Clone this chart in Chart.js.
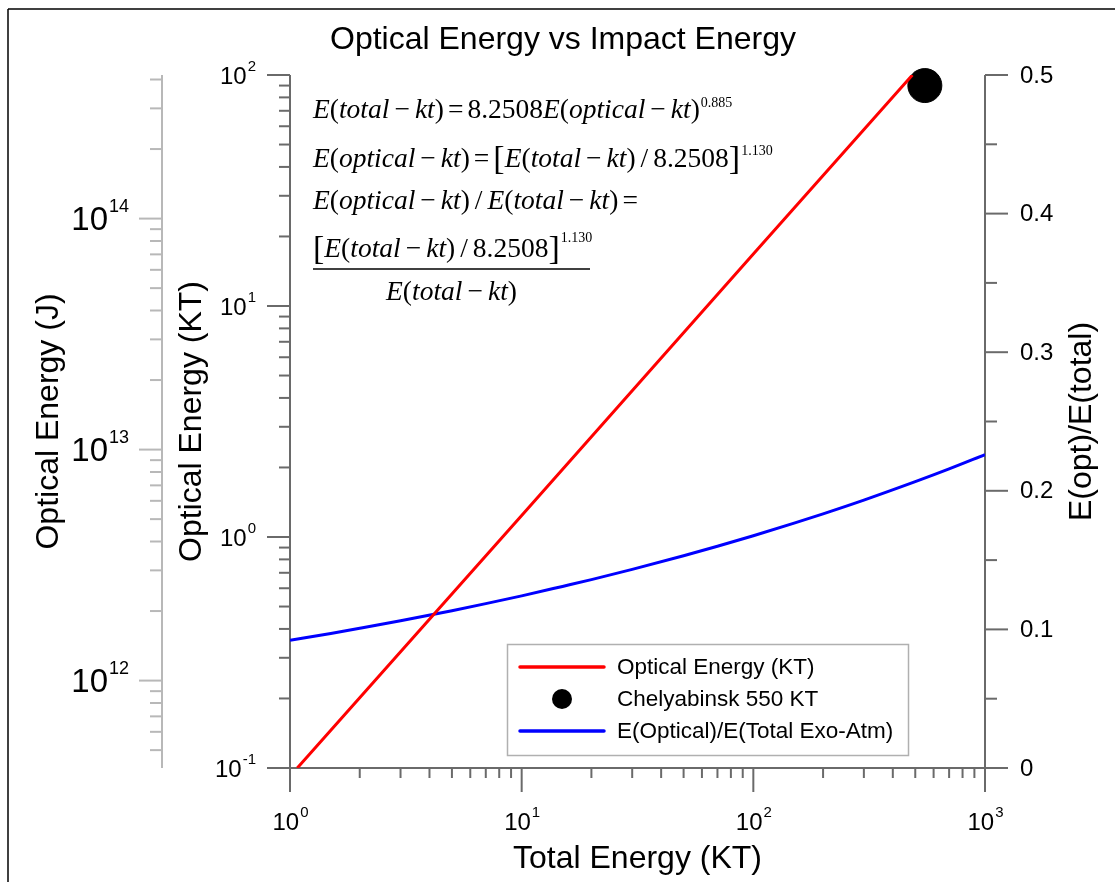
<!DOCTYPE html>
<html>
<head>
<meta charset="utf-8">
<title>Optical Energy vs Impact Energy</title>
<script src="https://cdn.jsdelivr.net/npm/chart.js@4.4.0/dist/chart.umd.min.js"></script>
<style>
  html, body { margin: 0; padding: 0; background: #fff; }
  #wrap { width: 1115px; height: 882px; }
</style>
</head>
<body>
<div id="wrap"><canvas id="energyChart" width="1115" height="882"></canvas></div>
<script>
// values
const redTotalKT = [1.075, 10, 100, 486];
const redOpticalKT = [0.1, 1.24, 16.8, 100];
const ratioTotalKT = [1, 1.5, 2, 3, 5, 7, 10, 15, 20, 30, 50, 70, 100, 150, 200, 300, 500, 700, 1000];
const ratioValues = [0.0921, 0.0971, 0.1008, 0.1062, 0.1135, 0.1186, 0.1242, 0.1310, 0.1359, 0.1433, 0.1531,
                     0.1600, 0.1676, 0.1767, 0.1834, 0.1933, 0.2066, 0.2158, 0.2261];
const chelyabinskTotalKT = [550];
const chelyabinskOpticalKT = [90];

// tick positions
const xMajor = [1, 10, 100, 1000];
const xMinor = [2, 3, 4, 5, 6, 7, 8, 9, 20, 30, 40, 50, 60, 70, 80, 90, 200, 300, 400, 500, 600, 700, 800, 900];
const xExp = ["0", "1", "2", "3"];
const ktMajor = [0.1, 1, 10, 100];
const ktMinor = [0.2, 0.3, 0.4, 0.5, 0.6, 0.7, 0.8, 0.9, 2, 3, 4, 5, 6, 7, 8, 9, 20, 30, 40, 50, 60, 70, 80, 90];
const ktExp = ["-1", "0", "1", "2"];
const jMajor = [1e12, 1e13, 1e14];
const jMinor = [5e11, 6e11, 7e11, 8e11, 9e11, 2e12, 3e12, 4e12, 5e12, 6e12, 7e12, 8e12, 9e12,
                2e13, 3e13, 4e13, 5e13, 6e13, 7e13, 8e13, 9e13, 2e14, 3e14, 4e14];
const jExp = ["12", "13", "14"];
const ratioMajor = [0, 0.1, 0.2, 0.3, 0.4, 0.5];
const ratioMinor = [0.05, 0.15, 0.25, 0.35, 0.45];
const ratioLabels = ["0", "0.1", "0.2", "0.3", "0.4", "0.5"];

const SANS = '"Liberation Sans", Arial, sans-serif';
const SERIF = '"Liberation Serif", "Times New Roman", serif';
const AXIS = "#6a6a6a";
const JAXIS = "#b8b8b8";

function line(ctx, x1, y1, x2, y2) {
  ctx.beginPath();
  ctx.moveTo(x1, y1);
  ctx.lineTo(x2, y2);
  ctx.stroke();
}

// "10" with a small exponent
function powLabel(ctx, exp, x, y, size, supSize, align) {
  ctx.font = size + "px " + SANS;
  const w1 = ctx.measureText("10").width;
  ctx.font = supSize + "px " + SANS;
  const w2 = ctx.measureText(exp).width;
  let left = x;
  if (align === "right") left = x - w1 - w2;
  if (align === "center") left = x - (w1 + w2) / 2;
  ctx.textAlign = "left";
  ctx.textBaseline = "middle";
  ctx.font = size + "px " + SANS;
  ctx.fillText("10", left, y);
  ctx.font = supSize + "px " + SANS;
  ctx.fillText(exp, left + w1 + 1, y - size * 0.42);
}

function rotatedText(ctx, text, baseX, centerY, size) {
  ctx.save();
  ctx.translate(baseX, centerY);
  ctx.rotate(-Math.PI / 2);
  ctx.font = size + "px " + SANS;
  ctx.textAlign = "center";
  ctx.textBaseline = "alphabetic";
  ctx.fillText(text, 0, 0);
  ctx.restore();
}

// equation pieces: i italic, r roman, b bracket, s superscript, g gap (px)
function partFont(k) {
  if (k === "i") return "italic 27.5px " + SERIF;
  if (k === "b") return "34px " + SERIF;
  if (k === "s") return "14px " + SERIF;
  return "27.5px " + SERIF;
}

function partWidth(ctx, p) {
  if (p[1] === "g") return p[0];
  ctx.font = partFont(p[1]);
  return ctx.measureText(p[0]).width;
}

function richWidth(ctx, parts) {
  return parts.reduce((w, p) => w + partWidth(ctx, p), 0);
}

function rich(ctx, parts, x, y) {
  ctx.textAlign = "left";
  ctx.textBaseline = "alphabetic";
  let cx = x;
  for (const p of parts) {
    if (p[1] !== "g") {
      ctx.font = partFont(p[1]);
      const dy = p[1] === "s" ? -(p[2] || 10) : (p[1] === "b" ? 2 : 0);
      ctx.fillText(p[0], cx + (p[1] === "s" ? 1 : 0), y + dy);
    }
    cx += partWidth(ctx, p);
  }
  return cx;
}

const eTotal = [["E", "i"], ["(", "r"], ["total", "i"], [5, "g"], ["\u2212", "r"], [5, "g"], ["kt", "i"], [")", "r"]];
const eOptical = [["E", "i"], ["(", "r"], ["optical", "i"], [5, "g"], ["\u2212", "r"], [5, "g"], ["kt", "i"], [")", "r"]];
const EQ = [[4, "g"], ["=", "r"], [4, "g"]];
const SL = [[5, "g"], ["/", "r"], [5, "g"]];
const eqLine1 = [...eTotal, ...EQ, ["8.2508", "r"], ...eOptical, ["0.885", "s", 11]];
const eqLine2 = [...eOptical, ...EQ, ["[", "b"], ...eTotal, ...SL, ["8.2508", "r"], ["]", "b"], ["1.130", "s", 12]];
const eqLine3 = [...eOptical, ...SL, ...eTotal, ...EQ];
const eqNum = [["[", "b"], ...eTotal, ...SL, ["8.2508", "r"], ["]", "b"], ["1.130", "s", 15]];
const eqDen = [...eTotal];

const decor = {
  id: "decor",
  beforeDatasetsDraw(chart) {
    const ctx = chart.ctx;
    const sx = chart.scales.x, sy = chart.scales.y, sj = chart.scales.yJ, sr = chart.scales.y2;
    const L = sx.left, R = sx.right, T = sy.top, B = sy.bottom;
    ctx.save();
    ctx.fillStyle = "#000";

    // outer frame
    ctx.strokeStyle = "#000";
    ctx.lineWidth = 1.5;
    line(ctx, 8, 9, 1115, 9);
    line(ctx, 8, 9, 8, 882);

    // title
    ctx.font = "32px " + SANS;
    ctx.textAlign = "center";
    ctx.textBaseline = "alphabetic";
    ctx.fillText("Optical Energy vs Impact Energy", 563, 49);

    // J axis
    ctx.strokeStyle = JAXIS;
    ctx.lineWidth = 2;
    const jx = 162;
    line(ctx, jx, T, jx, B);
    jMajor.forEach((v, i) => {
      const y = sj.getPixelForValue(v);
      line(ctx, jx - 23, y, jx, y);
      powLabel(ctx, jExp[i], 128, y + 2, 33, 18, "right");
    });
    jMinor.forEach(v => {
      const y = sj.getPixelForValue(v);
      line(ctx, jx - 12, y, jx, y);
    });
    rotatedText(ctx, "Optical Energy (J)", 58, (T + B) / 2, 32);

    // KT axis
    ctx.strokeStyle = AXIS;
    line(ctx, L, T, L, B);
    ktMajor.forEach((v, i) => {
      const y = sy.getPixelForValue(v);
      line(ctx, L - 23, y, L, y);
      powLabel(ctx, ktExp[i], 255, y + 2, 24, 15, "right");
    });
    ktMinor.forEach(v => {
      const y = sy.getPixelForValue(v);
      line(ctx, L - 11, y, L, y);
    });
    rotatedText(ctx, "Optical Energy (KT)", 201, (T + B) / 2, 32);

    // bottom axis
    line(ctx, L, B, R, B);
    xMajor.forEach((v, i) => {
      const x = sx.getPixelForValue(v);
      line(ctx, x, B, x, B + 24);
      powLabel(ctx, xExp[i], x, 823, 24, 15, "center");
    });
    xMinor.forEach(v => {
      const x = sx.getPixelForValue(v);
      line(ctx, x, B, x, B + 10);
    });
    ctx.font = "32px " + SANS;
    ctx.textAlign = "center";
    ctx.textBaseline = "alphabetic";
    ctx.fillText("Total Energy (KT)", (L + R) / 2, 868);

    // ratio axis
    line(ctx, R, T, R, B);
    ratioMajor.forEach((v, i) => {
      const y = sr.getPixelForValue(v);
      line(ctx, R, y, R + 23, y);
      ctx.font = "24px " + SANS;
      ctx.textAlign = "left";
      ctx.textBaseline = "middle";
      ctx.fillText(ratioLabels[i], 1020, y + 1);
    });
    ratioMinor.forEach(v => {
      const y = sr.getPixelForValue(v);
      line(ctx, R, y, R + 12, y);
    });
    rotatedText(ctx, "E(opt)/E(total)", 1091, (T + B) / 2, 32);

    // equations
    rich(ctx, eqLine1, 313, 118);
    rich(ctx, eqLine2, 313, 167);
    rich(ctx, eqLine3, 313, 209);
    rich(ctx, eqNum, 313, 257);
    ctx.strokeStyle = "#000";
    ctx.lineWidth = 1.5;
    line(ctx, 313, 269, 590, 269);
    const dw = richWidth(ctx, eqDen);
    rich(ctx, eqDen, 451.5 - dw / 2, 300);
    ctx.restore();
  },
  afterDatasetsDraw(chart) {
    const ctx = chart.ctx;
    ctx.save();
    ctx.fillStyle = "#fff";
    ctx.fillRect(507, 644, 401, 111);
    ctx.strokeStyle = "#b0b0b0";
    ctx.lineWidth = 1.5;
    ctx.strokeRect(507.5, 644.5, 401, 111);
    const rows = [667, 699, 731];
    ctx.font = "22.5px " + SANS;
    ctx.textAlign = "left";
    ctx.textBaseline = "middle";
    chart.data.datasets.forEach((d, i) => {
      const y = rows[i];
      if (d.showLine) {
        ctx.strokeStyle = d.borderColor;
        ctx.lineWidth = 3.5;
        ctx.lineCap = "round";
        line(ctx, 520, y, 604, y);
      } else {
        ctx.fillStyle = d.backgroundColor;
        ctx.beginPath();
        ctx.arc(562, y, 10, 0, Math.PI * 2);
        ctx.fill();
      }
      ctx.fillStyle = "#000";
      ctx.fillText(d.label, 617, y + 1);
    });
    ctx.restore();
  }
};

new Chart(document.getElementById("energyChart"), {
  type: "scatter",
  data: {
    datasets: [
      {
        label: "Optical Energy (KT)",
        data: redTotalKT.map((x, i) => ({ x: x, y: redOpticalKT[i] })),
        showLine: true,
        borderColor: "#ff0000",
        borderWidth: 3,
        pointRadius: 0,
        yAxisID: "y"
      },
      {
        label: "Chelyabinsk 550 KT",
        data: chelyabinskTotalKT.map((x, i) => ({ x: x, y: chelyabinskOpticalKT[i] })),
        showLine: false,
        backgroundColor: "#000000",
        borderColor: "#000000",
        pointRadius: 17,
        clip: false,
        yAxisID: "y"
      },
      {
        label: "E(Optical)/E(Total Exo-Atm)",
        data: ratioTotalKT.map((x, i) => ({ x: x, y: ratioValues[i] })),
        showLine: true,
        borderColor: "#0000ff",
        borderWidth: 3,
        pointRadius: 0,
        cubicInterpolationMode: "monotone",
        yAxisID: "y2"
      }
    ]
  },
  options: {
    responsive: false,
    devicePixelRatio: 1,
    animation: false,
    layout: { padding: { left: 290, right: 130, top: 75, bottom: 114 } },
    plugins: { legend: { display: false }, title: { display: false }, tooltip: { enabled: false } },
    scales: {
      x: { type: "logarithmic", min: 1, max: 1000, display: false },
      y: { type: "logarithmic", min: 0.1, max: 100, display: false },
      yJ: { type: "logarithmic", min: 4.184e11, max: 4.184e14, display: false },
      y2: { type: "linear", min: 0, max: 0.5, display: false }
    }
  },
  plugins: [decor]
});
</script>
</body>
</html>
